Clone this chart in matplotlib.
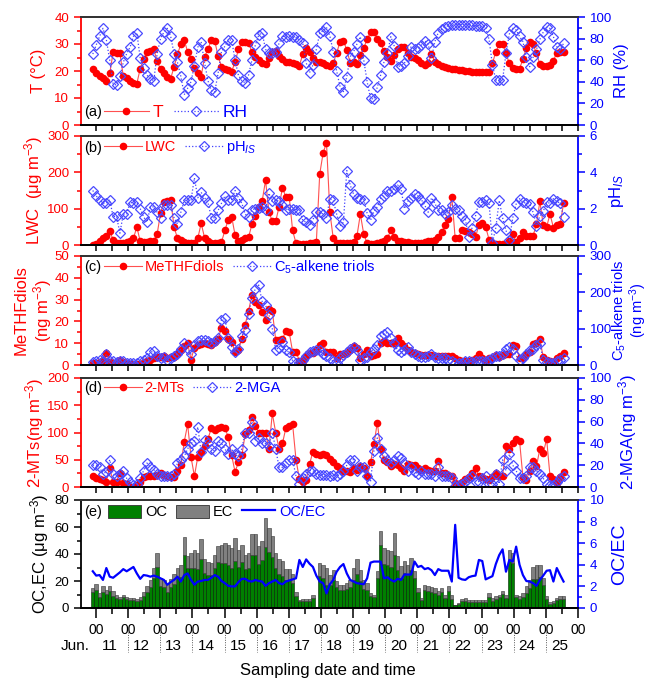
import numpy as np
import matplotlib.pyplot as plt
from matplotlib.ticker import MultipleLocator
from matplotlib.transforms import blended_transform_factory
from matplotlib.patches import Patch

plt.rcParams['font.family'] = ['Liberation Sans', 'DejaVu Sans']
plt.rcParams['mathtext.fontset'] = 'custom'
plt.rcParams['mathtext.rm'] = 'Liberation Sans'
plt.rcParams['mathtext.it'] = 'Liberation Sans:italic'

RED = '#ff0000'
BLUE = '#0000ff'

# sampling: days since Jun 11 00:00, one sample every ~2.5 h
first_sample = -0.10
step = 0.1054

temp = [20.6, 19.4, 18.1, 17.3, 16.3, 19.1, 26.9, 26.8, 26.6, 18.1,
        17.3, 16.3, 15.7, 15.3, 20.9, 24.3, 26.9, 27.5, 28.0, 23.7,
        20.6, 19.1, 17.9, 17.2, 21.6, 26.2, 29.9, 31.5, 27.1, 24.3,
        21.0, 19.4, 17.9, 25.3, 28.0, 31.5, 31.2, 25.5, 21.6, 20.8,
        20.4, 19.8, 23.3, 28.0, 30.6, 30.8, 30.5, 27.0, 25.3, 24.1,
        22.8, 22.5, 25.0, 27.1, 27.3, 25.5, 24.5, 23.5, 23.2, 22.8,
        22.5, 22.0, 26.2, 28.4, 27.1, 25.0, 23.5, 23.2, 22.8, 22.2,
        21.8, 23.0, 26.6, 30.9, 31.2, 27.8, 23.0, 23.2, 22.5, 25.9,
        28.5, 31.7, 34.5, 34.5, 32.0, 30.2, 27.4, 25.3, 23.8, 25.9,
        28.0, 29.0, 29.0, 26.8, 25.3, 24.7, 24.1, 23.1, 22.2, 22.8,
        26.2, 23.5, 22.5, 21.9, 21.4, 21.0, 20.8, 20.6, 20.5, 20.4,
        20.1, 20.0, 19.6, 19.7, 19.6, 19.6, 19.5, 19.5, 22.8, 27.1,
        29.9, 30.1, 26.5, 22.8, 21.2, 20.9, 20.9, 24.3, 28.6, 30.6,
        29.9, 26.5, 22.6, 21.9, 21.9, 22.2, 23.8, 26.8, 26.9, 26.9]

rh = [65.7, 74.0, 82.0, 89.5, 79.0, 60.0, 38.0, 37.0, 45.0, 58.0,
      66.0, 72.0, 82.0, 85.5, 62.0, 53.0, 46.0, 43.0, 41.0, 66.0,
      80.0, 86.0, 89.5, 82.0, 66.0, 58.0, 45.0, 28.0, 34.0, 40.0,
      55.0, 72.0, 77.0, 57.7, 41.0, 32.0, 30.5, 48.0, 68.0, 73.0,
      78.7, 78.7, 60.0, 46.0, 41.0, 39.0, 46.3, 60.0, 74.1, 83.3,
      85.5, 70.0, 66.4, 67.0, 67.9, 75.6, 82.4, 81.2, 82.4, 81.5,
      81.2, 78.7, 75.6, 57.7, 48.5, 55.6, 70.0, 84.9, 87.3, 90.4,
      82.4, 67.9, 50.0, 35.5, 30.9, 44.8, 63.3, 67.9, 75.0, 81.8,
      60.2, 40.1, 24.7, 23.8, 35.0, 46.3, 58.6, 66.4, 81.8, 73.1,
      54.0, 55.0, 57.1, 63.9, 72.5, 70.0, 71.0, 74.0, 78.0, 75.0,
      61.7, 77.2, 85.5, 88.6, 91.0, 92.0, 92.6, 92.8, 92.8, 92.8,
      92.8, 92.6, 92.5, 92.0, 91.5, 91.7, 90.0, 79.3, 55.6, 41.7,
      41.7, 41.7, 66.4, 84.3, 89.5, 88.0, 82.0, 77.2, 63.3, 54.0,
      62.7, 70.0, 79.3, 86.0, 90.4, 89.5, 81.8, 72.5, 70.0, 75.6]

lwc = [0, 2, 10, 18, 25, 38, 15, 5, 5, 5,
       7, 10, 18, 50, 10, 8, 8, 10, 12, 30,
       88, 118, 121, 123, 50, 18, 15, 8, 5, 5,
       5, 18, 60, 20, 10, 5, 5, 5, 8, 40,
       70, 78, 28, 12, 15, 18, 22, 57, 80, 105,
       120, 178, 92, 65, 65, 105, 158, 132, 132, 40,
       5, 3, 3, 3, 5, 5, 7, 195, 253, 282,
       90, 18, 5, 5, 5, 5, 5, 8, 25, 85,
       30, 5, 3, 3, 5, 8, 12, 20, 40, 22,
       10, 10, 8, 8, 5, 5, 5, 5, 8, 10,
       12, 15, 22, 35, 55, 72, 133, 18, 20, 42,
       38, 35, 30, 22, 55, 60, 50, 15, 5, 3,
       2, 2, 3, 10, 30, 8, 20, 35, 25, 25,
       25, 57, 120, 55, 50, 85, 48, 55, 57, 115]

ph_is = [3.0, 2.7, 2.5, 2.3, 2.3, 2.5, 1.55, 1.6, 0.65, 1.7,
         1.7, 2.35, 2.3, 2.35, 2.0, 1.55, 1.25, 2.1, 2.1, 1.8,
         1.5, 2.2, 2.2, 2.2, 1.5, 1.15, 1.8, 2.45, 2.5, 2.45,
         3.7, 2.6, 2.9, 2.6, 2.35, 1.5, 1.5, 1.9, 2.3, 2.7,
         2.5, 2.5, 3.0, 2.6, 2.3, 1.7, 1.55, 1.95, 2.0, 2.05,
         2.1, 1.9, 2.85, 2.4, 2.5, 2.4, 2.2, 1.95, 2.0, 2.0,
         1.95, 1.95, 1.35, 1.25, 1.1, 1.4, 1.8, 1.8, 1.7, 1.5,
         2.55, 2.45, 1.7, 1.05, 1.25, 4.1, 3.3, 2.8, 2.6, 2.55,
         2.5, 1.75, 1.35, 1.85, 2.1, 2.55, 2.7, 3.0, 3.0, 3.1,
         3.3, 3.1, 2.0, 2.4, 2.6, 2.8, 2.7, 2.5, 2.2, 1.8,
         2.6, 2.3, 1.9, 1.9, 1.7, 1.8, 2.2, 2.0, 1.9, 1.6,
         1.4, 0.45, 0.95, 1.6, 2.35, 2.35, 2.45, 2.3, 0.13, 0.95,
         2.45, 1.5, 0.8, 0.26, 1.5, 2.25, 2.55, 2.35, 2.3, 2.25,
         1.8, 1.05, 1.6, 1.85, 2.35, 2.3, 2.55, 2.4, 2.3, 1.55]

methf = [1, 1, 1.5, 2.5, 5.7, 1.5, 1, 0.5, 2.5, 1.5,
         0.5, 0.5, 0.3, 0.3, 0.5, 1.5, 2, 2.5, 3, 3.5,
         3.5, 4, 3, 3.5, 3.5, 5, 7, 8.5, 10, 2.5,
         8, 9, 9.5, 10, 9.5, 9, 10.5, 12, 17, 15.5,
         12, 10.5, 6, 7, 12, 18.5, 25, 32, 29, 27.5,
         24.5, 20.5, 25.5, 25, 11.5, 11.5, 12, 15.5, 15, 6,
         6, 2, 2, 4, 5.5, 5.5, 7, 9, 10, 6,
         6, 6, 3, 5, 5, 5.5, 7, 8.5, 8, 3,
         5, 7, 4, 4.5, 5, 10, 11, 10, 10, 10,
         12.5, 10, 8.5, 7, 6, 5.5, 5, 4.5, 4.5, 4.5,
         4.5, 4, 4, 4, 4, 4, 4, 3, 2.5, 2,
         2, 2, 2.5, 3, 5, 3, 2, 3, 3, 4.5,
         3.5, 4.5, 5, 5, 9, 8.5, 3, 3, 5, 6,
         9.5, 10, 12, 3.5, 2.5, 2, 1.5, 3, 4, 5.5]

c5_triols = [8, 10, 15, 12, 30, 12, 10, 8, 12, 10,
             5, 5, 5, 5, 10, 15, 18, 35, 38, 25,
             20, 22, 15, 18, 25, 30, 45, 60, 45, 30,
             55, 65, 70, 68, 65, 60, 65, 75, 125, 128,
             75, 50, 35, 45, 80, 95, 140, 185, 210, 220,
             175, 165, 138, 100, 42, 48, 63, 40, 35, 12,
             5, 5, 15, 25, 35, 38, 40, 40, 30, 25,
             18, 10, 5, 18, 28, 35, 45, 50, 40, 15,
             20, 22, 35, 45, 55, 80, 85, 90, 75, 60,
             40, 35, 40, 50, 35, 30, 25, 22, 22, 25,
             30, 22, 20, 20, 20, 15, 10, 5, 5, 5,
             10, 12, 8, 10, 10, 10, 12, 15, 20, 25,
             25, 30, 45, 50, 45, 25, 15, 20, 30, 40,
             45, 55, 60, 15, 8, 5, 5, 10, 15, 20]

mts = [20, 17, 14, 12, 10, 35, 9, 10, 25, 8,
       5, 0, 0, 3, 10, 18, 20, 20, 20, 22,
       25, 22, 20, 18, 18, 30, 40, 83, 115, 55,
       20, 55, 65, 75, 88, 108, 105, 108, 110, 108,
       92, 58, 28, 45, 58, 97, 105, 128, 112, 100,
       100, 100, 70, 135, 100, 70, 80, 108, 112, 115,
       50, 15, 10, 12, 42, 65, 60, 58, 60, 58,
       52, 45, 38, 35, 30, 30, 28, 35, 32, 38,
       35, 20, 45, 78, 118, 70, 50, 45, 38, 42,
       40, 35, 30, 42, 40, 40, 35, 32, 35, 32,
       30, 30, 48, 25, 25, 22, 20, 8, 5, 10,
       15, 18, 25, 35, 20, 18, 15, 12, 18, 25,
       20, 20, 75, 70, 80, 88, 85, 18, 12, 30,
       47, 38, 70, 62, 88, 20, 15, 8, 18, 28]

mga = [20, 20, 18, 12, 14, 25, 12, 10, 12, 15,
       8, 5, 2, 3, 8, 15, 22, 18, 16, 12,
       10, 10, 10, 10, 12, 22, 25, 28, 35, 40,
       42, 55, 32, 43, 40, 35, 33, 42, 40, 35,
       30, 35, 30, 28, 35, 50, 50, 60, 42, 45,
       40, 40, 38, 50, 35, 18, 18, 22, 25, 25,
       10, 3, 8, 12, 15, 15, 12, 11, 11, 11,
       10, 11, 10, 12, 15, 20, 25, 25, 15, 18,
       18, 10, 5, 33, 45, 35, 28, 25, 22, 25,
       28, 27, 22, 15, 18, 14, 12, 15, 12, 12,
       12, 10, 18, 10, 10, 10, 8, 1, 2, 3,
       5, 8, 10, 5, 5, 8, 10, 3, 3, 12,
       3, 25, 15, 30, 20, 15, 8, 8, 10, 18,
       18, 15, 12, 8, 3, 2, 2, 5, 8, 10]

nan = np.nan
oc = [11.6, 13.5, 8.3, 11.9, 10.6, 12.3, 9.2, 7.5, 6.5, 7.8,
      6.6, 5.9, 5.9, 5.3, 6.2, 9.0, 12.0, 15.6, 22.1, 30.1,
      16.1, 15.2, 11.9, 15.2, 18.1, 21.9, 22.7, 39.5, 29.3, 29.6,
      29.3, 29.1, 36.4, 26.0, 24.6, 24.3, 29.8, 34.0, 33.6, 33.7,
      31.6, 29.7, 34.7, 30.6, 34.3, 28.9, 29.3, 39.1, 39.4, 32.6,
      35.2, 45.0, 41.5, 37.6, 29.6, 25.4, 23.9, 20.6, 20.8, 18.2,
      8.8, 4.9, 5.0, 5.3, 5.2, 7.5, nan, 23.7, 22.3, 17.1,
      17.0, 20.6, 15.3, 13.7, 13.6, 14.2, 15.2, 21.1, 25.1, 19.7,
      14.4, 13.6, 8.9, 8.1, 22.1, 46.3, 32.7, 32.1, 30.3, 39.6,
      28.2, 22.4, 26.2, 24.2, 28.0, 22.1, 11.8, 5.9, 13.5, 12.6,
      12.1, 11.2, 9.7, 11.6, 7.7, 12.4, 7.0, 2.2, 2.7, 4.9,
      5.3, 4.6, 4.3, 4.3, 4.7, 4.6, 4.1, 8.1, 5.5, 7.0,
      8.2, 10.5, 7.6, 35.1, 33.3, 8.4, 7.0, 8.3, 11.4, 14.9,
      21.3, 21.2, 22.7, 16.7, 6.7, 3.3, 3.6, 5.8, 6.6, 6.5]

ec = [3.4, 4.5, 2.7, 4.6, 2.9, 4.2, 3.3, 2.5, 2.0, 2.2,
      1.9, 1.6, 1.6, 1.7, 2.3, 3.0, 4.0, 5.4, 7.4, 10.4,
      5.9, 5.8, 5.6, 6.3, 6.9, 7.6, 9.3, 13.0, 9.2, 11.4,
      13.7, 11.9, 14.6, 10.0, 9.4, 8.7, 9.8, 11.7, 13.4, 14.7,
      15.4, 14.8, 17.3, 12.7, 12.7, 10.7, 11.7, 15.9, 15.1, 13.1,
      14.3, 22.0, 18.0, 15.4, 11.4, 11.0, 10.8, 8.4, 8.2, 6.8,
      3.2, 1.1, 1.3, 1.2, 1.3, 2.0, nan, 9.7, 9.7, 12.6,
      7.8, 7.9, 4.5, 3.6, 3.4, 4.4, 5.8, 8.6, 10.9, 8.8,
      6.6, 5.0, 2.1, 1.9, 5.1, 10.7, 11.9, 11.2, 11.7, 16.1,
      10.2, 8.6, 8.5, 7.8, 9.0, 5.1, 3.1, 1.5, 3.8, 3.4,
      3.4, 3.7, 2.7, 3.3, 2.2, 3.6, 2.9, 0.3, 1.0, 1.8,
      2.1, 1.6, 1.4, 1.4, 1.0, 1.1, 1.6, 2.9, 1.9, 1.7,
      1.7, 1.9, 2.3, 7.9, 7.7, 1.5, 1.7, 2.7, 4.6, 6.1,
      9.2, 10.3, 8.8, 5.6, 2.0, 0.9, 1.4, 1.6, 2.1, 2.7]

oc_ec = [3.4, 3.0, 3.05, 2.6, 3.7, 2.9, 2.8, 3.05, 3.3, 3.6,
         3.4, 3.6, 3.8, 3.2, 2.7, 3.05, 3.0, 2.9, 3.0, 2.9,
         2.75, 2.6, 2.15, 2.4, 2.6, 2.9, 2.45, 3.05, 3.2, 2.6,
         2.15, 2.45, 2.5, 2.6, 2.6, 2.8, 3.05, 2.9, 2.5, 2.3,
         2.05, 2.0, 2.0, 2.4, 2.7, 2.7, 2.5, 2.45, 2.6, 2.5,
         2.45, 2.05, 2.3, 2.45, 2.6, 2.3, 2.2, 2.45, 2.55, 2.65,
         2.75, 4.45, 3.8, 4.5, 4.1, 3.8, 3.0, 2.45, 2.3, 1.35,
         2.2, 2.6, 3.36, 3.8, 4.07, 3.2, 2.6, 2.45, 2.3, 2.25,
         2.2, 2.75, 4.2, 4.3, 4.3, 4.3, 2.75, 2.85, 2.6, 2.45,
         2.7, 2.6, 3.1, 3.1, 3.1, 4.3, 3.8, 3.9, 3.6, 3.7,
         3.5, 3.05, 3.6, 3.45, 3.45, 3.45, 2.45, 7.7, 2.8, 2.65,
         2.6, 2.85, 2.95, 3.0, 4.45, 4.35, 2.65, 2.8, 2.95, 4.07,
         4.9, 5.43, 3.36, 4.45, 4.3, 5.68, 4.0, 3.05, 2.5, 2.45,
         2.3, 2.05, 2.6, 3.0, 3.45, 3.5, 2.45, 3.7, 3.05, 2.45]

day_labels = ['11', '12', '13', '14', '15', '16', '17', '18',
              '19', '20', '21', '22', '23', '24', '25']
hour_labels = ['00'] * 16

t = first_sample + step * np.arange(len(temp))

fig = plt.figure(figsize=(6.5, 6.79), dpi=100)
W, H = 650.0, 679.0
rows = [(17, 125), (136, 245), (256, 365), (378, 487), (500, 608)]
axes = [fig.add_axes([81 / W, 1 - b / H, 497 / W, (b - a) / H]) for a, b in rows]


def style(ax, ax2, lcol, lim1, maj1, min1, lim2, maj2, min2):
    ax.set_xlim(-0.467, 15)
    ax.set_ylim(*lim1)
    ax2.set_ylim(*lim2)
    ax.yaxis.set_major_locator(MultipleLocator(maj1))
    ax.yaxis.set_minor_locator(MultipleLocator(min1))
    ax2.yaxis.set_major_locator(MultipleLocator(maj2))
    ax2.yaxis.set_minor_locator(MultipleLocator(min2))
    ax.xaxis.set_major_locator(MultipleLocator(1))
    ax.xaxis.set_minor_locator(MultipleLocator(0.5))
    ax.tick_params(axis='y', which='major', colors=lcol, labelsize=9.5, length=5, width=1.1)
    ax.tick_params(axis='y', which='minor', colors=lcol, length=3, width=1.1)
    ax2.tick_params(axis='y', which='major', colors=BLUE, labelsize=9.5, length=5, width=1.1)
    ax2.tick_params(axis='y', which='minor', colors=BLUE, length=3, width=1.1)
    ax.tick_params(axis='x', which='both', direction='out', length=4.5, width=1.1,
                   labelbottom=False)
    ax.spines['left'].set_color(lcol)
    ax.spines['right'].set_visible(False)
    ax2.spines['left'].set_visible(False)
    ax2.spines['right'].set_color(BLUE)
    for a in (ax, ax2):
        for s in a.spines.values():
            s.set_linewidth(1.3)
    ax.spines['top'].set_color('#333333')
    ax2.spines['top'].set_color('#333333')


def dual_lines(ax, left, right):
    l1, = ax.plot(t, left, '-', color='#ff5050', lw=0.8, marker='o', ms=5.5,
                  mfc=RED, mec=RED, mew=0)
    ax2 = ax.twinx()
    l2, = ax2.plot(t, right, ':', color='#4040ff', lw=0.9, marker='D', ms=4.6,
                   mfc='none', mec='#4a4aff', mew=0.9)
    return ax2, l1, l2


def add_legend(ax2, handles, labels, colors, y, size):
    ax2.legend(handles, labels, loc='center left', bbox_to_anchor=(0.046, y),
               frameon=False, ncol=len(handles), borderpad=0, borderaxespad=0,
               handlelength=2.6, handletextpad=0.2, columnspacing=0.6,
               labelcolor=colors, prop={'size': size})


def panel_tag(ax, tag, y):
    ax.text(0.006, y, tag, transform=ax.transAxes, fontsize=10.5, va='center', ha='left')


# (a) temperature and RH
ax = axes[0]
ax2, l1, l2 = dual_lines(ax, temp, rh)
style(ax, ax2, RED, (0, 40), 10, 5, (0, 100), 20, 10)
ax.set_ylabel('T (°C)', color=RED, fontsize=12)
ax2.set_ylabel('RH (%)', color=BLUE, fontsize=12)
ax.yaxis.set_label_coords(-0.07, 0.5)
ax2.yaxis.set_label_coords(1.072, 0.5)
add_legend(ax2, [l1, l2], ['T', 'RH'], [RED, BLUE], 0.12, 12.5)
panel_tag(ax, '(a)', 0.12)

# (b) LWC and pH
ax = axes[1]
ax2, l1, l2 = dual_lines(ax, lwc, ph_is)
style(ax, ax2, RED, (0, 300), 100, 50, (0, 6), 2, 1)
ax.set_ylabel('LWC  (μg m$^{-3}$)', color=RED, fontsize=12)
ax2.set_ylabel(r'pH$_{\mathit{IS}}$', color=BLUE, fontsize=12)
ax.yaxis.set_label_coords(-0.072, 0.5)
ax2.yaxis.set_label_coords(1.058, 0.5)
add_legend(ax2, [l1, l2], ['LWC', r'pH$_{\mathit{IS}}$'], [RED, BLUE], 0.89, 10.5)
panel_tag(ax, '(b)', 0.89)

# (c) MeTHFdiols and C5-alkene triols
ax = axes[2]
ax2, l1, l2 = dual_lines(ax, methf, c5_triols)
style(ax, ax2, RED, (0, 50), 10, 5, (0, 300), 100, 50)
ax.set_ylabel('MeTHFdiols\n(ng m$^{-3}$)', color=RED, fontsize=12, linespacing=1.1)
ax2.set_ylabel('C$_5$-alkene triols\n(ng m$^{-3}$)', color=BLUE, fontsize=10.5,
               linespacing=0.95)
ax.yaxis.set_label_coords(-0.055, 0.5)
ax2.yaxis.set_label_coords(1.066, 0.5)
add_legend(ax2, [l1, l2], ['MeTHFdiols', 'C$_5$-alkene triols'], [RED, BLUE], 0.9, 10.5)
panel_tag(ax, '(c)', 0.9)

# (d) 2-MTs and 2-MGA
ax = axes[3]
ax2, l1, l2 = dual_lines(ax, mts, mga)
style(ax, ax2, RED, (0, 200), 50, 25, (0, 100), 20, 10)
ax.set_ylabel('2-MTs(ng m$^{-3}$)', color=RED, fontsize=12)
ax2.set_ylabel('2-MGA(ng m$^{-3}$)', color=BLUE, fontsize=12)
ax.yaxis.set_label_coords(-0.07, 0.5)
ax2.yaxis.set_label_coords(1.076, 0.5)
add_legend(ax2, [l1, l2], ['2-MTs', '2-MGA'], [RED, BLUE], 0.91, 10.5)
panel_tag(ax, '(d)', 0.91)

# (e) OC, EC and OC/EC
ax = axes[4]
oc_a = np.array(oc)
ax.bar(t, oc_a, width=step, color='#008000', edgecolor='#002200', linewidth=0.4)
ax.bar(t, ec, width=step, bottom=oc_a, color='#808080', edgecolor='#333333', linewidth=0.4)
ax2 = ax.twinx()
l3, = ax2.plot(t, oc_ec, '-', color=BLUE, lw=1.6)
style(ax, ax2, 'black', (0, 80), 20, 10, (0, 10), 2, 1)
ax.tick_params(axis='x', which='major', length=7, labelbottom=True, labelsize=10, pad=4)
ax.tick_params(axis='x', which='minor', length=4)
ax.set_xticks(np.arange(len(hour_labels)))
ax.set_xticklabels(hour_labels)
ax.set_ylabel('OC,EC (μg m$^{-3}$)', color='black', fontsize=12)
ax2.set_ylabel('OC/EC', color=BLUE, fontsize=14)
ax.yaxis.set_label_coords(-0.06, 0.5)
ax2.yaxis.set_label_coords(1.066, 0.5)
h_oc = Patch(facecolor='#008000', edgecolor='#333333', linewidth=0.6)
h_ec = Patch(facecolor='#808080', edgecolor='#333333', linewidth=0.6)
ax2.legend([h_oc, h_ec, l3], ['OC', 'EC', 'OC/EC'], loc='center left',
           bbox_to_anchor=(0.054, 0.89), frameon=False, ncol=3, borderpad=0,
           borderaxespad=0, handlelength=2.3, handleheight=1.0, handletextpad=0.25,
           columnspacing=0.6, labelcolor=['black', 'black', BLUE], prop={'size': 10.5})
panel_tag(ax, '(e)', 0.89)

# day row under the hour labels
tr = blended_transform_factory(ax.transData, ax.transAxes)
ax.text(-0.65, -0.352, 'Jun.', transform=tr, ha='center', va='center', fontsize=11)
for k, lab in enumerate(day_labels):
    ax.text(k + 0.42, -0.352, lab, transform=tr, ha='center', va='center', fontsize=11)
for k in range(1, len(day_labels)):
    ax.plot([k, k], [-0.222, -0.41], transform=tr, color='#555555', lw=0.7,
            ls=(0, (1, 1.5)), clip_on=False)

fig.text(328 / W, 1 - 670 / H, 'Sampling date and time', ha='center', va='center', fontsize=12)

fig.savefig('out.png', dpi=100)
